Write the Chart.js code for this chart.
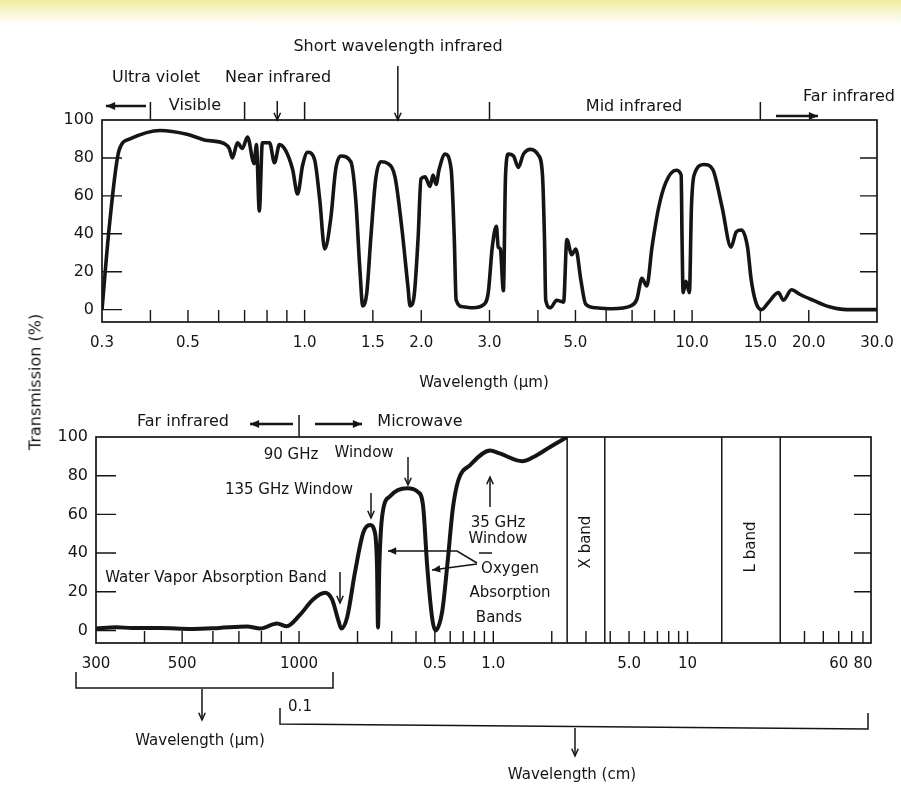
<!DOCTYPE html>
<html>
<head>
<meta charset="utf-8">
<script src="https://cdn.jsdelivr.net/npm/chart.js@4.4.1/dist/chart.umd.min.js"></script>
<style>
  html, body { margin: 0; padding: 0; }
  body {
    width: 901px; height: 786px; position: relative; overflow: hidden;
    background: linear-gradient(to bottom, #f1eb98 0px, #f8f4c9 10px, #ffffff 26px);
    font-family: "DejaVu Sans", sans-serif;
  }
  canvas { position: absolute; left: 0; }
  #top { top: 0; }
  #bottom { top: 400px; }
  #ylabel {
    position: absolute; left: 35px; top: 382px;
    transform: translate(-50%, -50%) rotate(-90deg);
    font-size: 16px; white-space: nowrap; color: #151515;
  }
</style>
</head>
<body>
<canvas id="top" width="901" height="400"></canvas>
<canvas id="bottom" width="901" height="386"></canvas>
<div id="ylabel">Transmission (%)</div>
<script>
"use strict";

// ---- top panel: wavelength in micrometres, transmission in %
var topWavelengthUm = [
    0.300, 0.313, 0.332, 0.354, 0.424, 0.497, 0.551, 0.621, 0.639, 0.651,
    0.671, 0.691, 0.712, 0.741, 0.751, 0.764, 0.778, 0.812, 0.836, 0.861,
    0.893, 0.931, 0.959, 0.988, 1.018, 1.061, 1.094, 1.127, 1.168, 1.203,
    1.240, 1.316, 1.355, 1.388, 1.413, 1.447, 1.482, 1.526, 1.574, 1.641,
    1.711, 1.782, 1.848, 1.871, 1.916, 1.963, 1.997, 2.045, 2.107, 2.145,
    2.184, 2.224, 2.305, 2.389, 2.433, 2.461, 2.565, 2.724, 2.891, 2.978,
    3.05, 3.125, 3.16, 3.20, 3.258, 3.30, 3.357, 3.46, 3.56, 3.67,
    3.83, 4.01, 4.11, 4.16, 4.19, 4.31, 4.47, 4.66, 4.75, 4.89,
    5.01, 5.16, 5.31, 5.64, 6.21, 6.95, 7.2, 7.42, 7.64, 7.88,
    8.2, 8.55, 9.09, 9.37, 9.42, 9.48, 9.64, 9.84, 9.96, 10.12,
    10.74, 11.3, 11.95, 12.6, 13.0, 13.4, 13.9, 14.2, 14.6, 15.1,
    15.7, 16.7, 17.2, 18.05, 19.0, 20.5, 22.6, 25.1, 30.0
];
var topTransmission = [
    0, 43, 84, 90, 94.5, 92.5, 89.5, 87.5, 85, 80,
    88, 85, 91, 77, 87, 52, 88, 88, 77.5, 87,
    84, 74, 61, 76, 83, 79, 58, 32, 48, 74,
    81, 78, 58, 22, 2, 9, 38, 69, 78, 77,
    70, 43, 12, 2, 7, 38, 69, 70, 65, 71,
    66, 74, 82, 74, 38, 5, 1.5, 1, 2.5, 9,
    33, 44, 33, 32, 10, 71, 82, 81, 75, 82,
    84.5, 81.5, 71, 37, 5, 1, 5, 4, 37, 29,
    32, 16, 3, 1, 0.5, 2, 5.5, 16.5, 12.5, 33,
    54, 67, 73.5, 71, 37, 9, 15, 9, 54, 71,
    76.5, 74, 54, 33, 41, 42, 33, 16, 4, 0,
    3.5, 9, 5, 10.5, 8, 5, 1.5, 0, 0
];
var topTickValues = [0.3, 0.4, 0.5, 0.6, 0.7, 0.8, 0.9, 1, 1.5, 2, 3, 4, 5, 6, 7, 8, 9, 10, 15, 20, 30];
var topTickLabels = { 0.3: "0.3", 0.5: "0.5", 1: "1.0", 1.5: "1.5", 2: "2.0", 3: "3.0",
    5: "5.0", 10: "10.0", 15: "15.0", 20: "20.0", 30: "30.0" };
var topRegionEdgesUm = [0.4, 0.7, 1.0, 3.0, 15.0];

// ---- bottom panel: wavelength in cm (300-1000 um shown as 0.03-0.1 cm)
var bottomWavelengthCm = [
    0.030, 0.0338, 0.0372, 0.0437, 0.0532, 0.0623, 0.0735, 0.0795, 0.0877, 0.093,
    0.101, 0.118, 0.136, 0.148, 0.159, 0.165, 0.177, 0.194, 0.214, 0.232,
    0.246, 0.252, 0.255, 0.259, 0.264, 0.271, 0.295, 0.360, 0.410, 0.435,
    0.457, 0.485, 0.503, 0.546, 0.580, 0.62, 0.66, 0.76, 0.965, 1.08,
    1.41, 1.6, 1.97, 2.40
];
var bottomTransmission = [
    1, 1.6, 1.3, 1.3, 0.8, 1.3, 2, 1, 3.6, 2.2,
    8, 16, 19.5, 16, 5.5, 1, 7, 30, 50.5, 54.5,
    50.5, 33, 1.5, 33, 52, 62.5, 69.5, 73.5, 71.5, 64.5,
    33, 6, 0, 10, 34, 63.5, 77.5, 85.5, 93, 91.5,
    87.5, 89.5, 95, 100
];
var bottomTickValues = [0.03, 0.04, 0.05, 0.06, 0.07, 0.08, 0.09, 0.1, 0.2, 0.3, 0.4,
    0.5, 0.6, 0.7, 0.8, 0.9, 1, 2, 3, 4, 5, 6, 7, 8, 9, 10, 40, 50, 60, 70, 80];
var bottomTickLabels = { 0.03: "300", 0.05: "500", 0.1: "1000", 0.5: "0.5", 1: "1.0",
    5: "5.0", 10: "10", 60: "60", 80: "80" };
var xBandCm = [2.4, 3.75];
var lBandCm = [15, 30];

var yTickValues = [0, 20, 40, 60, 80, 100];

var ink = "#151515";
Chart.defaults.font.family = "'DejaVu Sans', sans-serif";
Chart.defaults.color = ink;

// log axis with a break: first part (um range) is stretched compared with the rest
class BrokenLogScale extends Chart.LogarithmicScale {
    _decimal(value) {
        var o = this.options;
        var lo = Math.log10(this.min), br = Math.log10(o.breakValue), hi = Math.log10(this.max);
        var v = Math.log10(value);
        if (v <= br) return (v - lo) / (br - lo) * o.breakFraction;
        return o.breakFraction + (v - br) / (hi - br) * (1 - o.breakFraction);
    }
    getPixelForValue(value) {
        if (value === undefined || value === null || value <= 0) return NaN;
        return this.getPixelForDecimal(this._decimal(value));
    }
    getValueForPixel(pixel) {
        var o = this.options, d = this.getDecimalForPixel(pixel);
        var lo = Math.log10(this.min), br = Math.log10(o.breakValue), hi = Math.log10(this.max);
        var v = d <= o.breakFraction
            ? lo + d / o.breakFraction * (br - lo)
            : br + (d - o.breakFraction) / (1 - o.breakFraction) * (hi - br);
        return Math.pow(10, v);
    }
}
BrokenLogScale.id = "brokenLog";
BrokenLogScale.defaults = Chart.LogarithmicScale.defaults;
Chart.register(BrokenLogScale);

function line(ctx, x1, y1, x2, y2) {
    ctx.beginPath(); ctx.moveTo(x1, y1); ctx.lineTo(x2, y2); ctx.stroke();
}

function arrow(ctx, pts, size, filled) {
    ctx.beginPath();
    ctx.moveTo(pts[0][0], pts[0][1]);
    for (var i = 1; i < pts.length; i++) ctx.lineTo(pts[i][0], pts[i][1]);
    ctx.stroke();
    var p = pts[pts.length - 2], q = pts[pts.length - 1];
    var ang = Math.atan2(q[1] - p[1], q[0] - p[0]), w = 0.42;
    ctx.beginPath();
    ctx.moveTo(q[0] - size * Math.cos(ang - w), q[1] - size * Math.sin(ang - w));
    ctx.lineTo(q[0], q[1]);
    ctx.lineTo(q[0] - size * Math.cos(ang + w), q[1] - size * Math.sin(ang + w));
    if (filled) { ctx.closePath(); ctx.fill(); } else { ctx.stroke(); }
}

function label(ctx, s, x, y, size, rot) {
    ctx.font = (size || 16) + "px 'DejaVu Sans', sans-serif";
    ctx.textAlign = "center";
    ctx.textBaseline = "middle";
    if (rot) {
        ctx.save(); ctx.translate(x, y); ctx.rotate(rot); ctx.fillText(s, 0, 0); ctx.restore();
    } else {
        ctx.fillText(s, x, y);
    }
}

// frame round the plot and inward tick marks
var framePlugin = {
    id: "frame",
    afterDatasetsDraw: function (chart) {
        var ctx = chart.ctx, a = chart.chartArea, x = chart.scales.x, y = chart.scales.y;
        ctx.save();
        ctx.strokeStyle = ink;
        ctx.lineWidth = 1.7;
        ctx.strokeRect(a.left, a.top, a.right - a.left, a.bottom - a.top);
        ctx.lineWidth = 1.4;
        ctx.beginPath();
        x.ticks.forEach(function (t) {
            var px = x.getPixelForValue(t.value);
            if (px < a.left + 2 || px > a.right - 2) return;
            ctx.moveTo(px, a.bottom);
            ctx.lineTo(px, a.bottom - 12);
        });
        y.ticks.forEach(function (t) {
            if (t.value >= 100) return;
            var py = y.getPixelForValue(t.value);
            ctx.moveTo(a.left, py);
            ctx.lineTo(a.left + 20, py);
            if (t.value > 0) {
                ctx.moveTo(a.right, py);
                ctx.lineTo(a.right - 17, py);
            }
        });
        ctx.stroke();
        ctx.restore();
    }
};

var topNotes = {
    id: "topNotes",
    afterDraw: function (chart) {
        var ctx = chart.ctx, a = chart.chartArea, x = chart.scales.x;
        ctx.save();
        ctx.strokeStyle = ink;
        ctx.fillStyle = ink;
        ctx.lineWidth = 1.5;
        topRegionEdgesUm.forEach(function (w) {
            var px = x.getPixelForValue(w);
            line(ctx, px, a.top - 18, px, a.top);
        });
        label(ctx, "Short wavelength infrared", 398, 47);
        label(ctx, "Ultra violet", 156, 78);
        label(ctx, "Near infrared", 278, 78);
        label(ctx, "Visible", 195, 106);
        label(ctx, "Mid infrared", 634, 107);
        label(ctx, "Far infrared", 849, 97);
        ctx.lineWidth = 2.4;
        arrow(ctx, [[146, 106], [106, 106]], 10, true);
        arrow(ctx, [[776, 116], [818, 116]], 10, true);
        ctx.lineWidth = 1.5;
        var nir = x.getPixelForValue(0.85), swir = x.getPixelForValue(1.74);
        arrow(ctx, [[nir, 101], [nir, a.top]], 8);
        arrow(ctx, [[swir, 66], [swir, a.top]], 8);
        label(ctx, "Wavelength (\u03bcm)", 484, 383, 15);
        ctx.restore();
    }
};

var bottomNotes = {
    id: "bottomNotes",
    afterDraw: function (chart) {
        var ctx = chart.ctx, a = chart.chartArea, x = chart.scales.x;
        ctx.save();
        ctx.strokeStyle = ink;
        ctx.fillStyle = ink;
        ctx.lineWidth = 1.5;
        // microwave band limits
        xBandCm.concat(lBandCm).forEach(function (w) {
            var px = x.getPixelForValue(w);
            line(ctx, px, a.top, px, a.bottom);
        });
        label(ctx, "X band", x.getPixelForValue(Math.sqrt(xBandCm[0] * xBandCm[1])), 142, 15, -Math.PI / 2);
        label(ctx, "L band", x.getPixelForValue(Math.sqrt(lBandCm[0] * lBandCm[1])), 147, 15, -Math.PI / 2);

        // far infrared / microwave split at 1 mm
        var split = x.getPixelForValue(0.1);
        line(ctx, split, 15, split, a.top);
        label(ctx, "Far infrared", 183, 22);
        label(ctx, "Microwave", 420, 22);
        ctx.lineWidth = 2.4;
        arrow(ctx, [[293, 24], [250, 24]], 10, true);
        arrow(ctx, [[315, 24], [362, 24]], 10, true);

        ctx.lineWidth = 1.5;
        label(ctx, "90 GHz", 291, 55, 15);
        label(ctx, "Window", 364, 53, 15);
        arrow(ctx, [[408, 57], [408, 85]], 8);
        label(ctx, "135 GHz Window", 289, 90, 15);
        arrow(ctx, [[371, 93], [371, 118]], 8);
        label(ctx, "35 GHz", 498, 123, 15);
        label(ctx, "Window", 498, 139, 15);
        line(ctx, 479, 153, 492, 153);
        arrow(ctx, [[490, 107], [490, 77]], 8);
        label(ctx, "Oxygen", 510, 169, 15);
        label(ctx, "Absorption", 510, 193, 15);
        label(ctx, "Bands", 499, 218, 15);
        arrow(ctx, [[477, 163], [457, 151], [388, 151]], 9, true);
        arrow(ctx, [[477, 164], [432, 170]], 9, true);
        label(ctx, "Water Vapor Absorption Band", 216, 178, 15);
        arrow(ctx, [[340, 172], [340, 203]], 8);

        // brackets under the axis
        ctx.lineWidth = 1.5;
        ctx.beginPath();
        ctx.moveTo(76, 272); ctx.lineTo(76, 288); ctx.lineTo(333, 288); ctx.lineTo(333, 272);
        ctx.stroke();
        arrow(ctx, [[202, 289], [202, 320]], 8);
        label(ctx, "Wavelength (\u03bcm)", 200, 341, 15);
        ctx.beginPath();
        ctx.moveTo(280, 308); ctx.lineTo(280, 324); ctx.lineTo(868, 329); ctx.lineTo(868, 313);
        ctx.stroke();
        label(ctx, "0.1", 300, 307, 15);
        arrow(ctx, [[575, 328], [575, 356]], 8);
        label(ctx, "Wavelength (cm)", 572, 375, 15);
        ctx.restore();
    }
};

function yAxis(width, pad) {
    return {
        min: -6.5, max: 100, bounds: "data",
        grid: { display: false }, border: { display: false },
        afterBuildTicks: function (s) { s.ticks = yTickValues.map(function (v) { return { value: v }; }); },
        afterFit: function (s) { s.width = width; },
        ticks: { padding: pad, font: { size: 16 }, callback: function (v) { return String(v); } }
    };
}

function series(xs, ys, width) {
    return {
        data: xs.map(function (w, i) { return { x: w, y: ys[i] }; }),
        borderColor: ink, borderWidth: width, pointRadius: 0,
        cubicInterpolationMode: "monotone", fill: false
    };
}

new Chart(document.getElementById("top"), {
    type: "line",
    data: { datasets: [series(topWavelengthUm, topTransmission, 3.6)] },
    options: {
        responsive: false, animation: false, events: [],
        layout: { padding: { top: 120, right: 24, left: 0, bottom: 0 } },
        plugins: { legend: { display: false }, tooltip: { enabled: false } },
        scales: {
            x: {
                type: "logarithmic", min: 0.3, max: 30, bounds: "data",
                grid: { display: false }, border: { display: false },
                afterBuildTicks: function (s) { s.ticks = topTickValues.map(function (v) { return { value: v }; }); },
                afterFit: function (s) { s.height = 78; },
                ticks: { autoSkip: false, maxRotation: 0, padding: 4, font: { size: 15 },
                    callback: function (v) { return topTickLabels[v] || ""; } }
            },
            y: yAxis(102, 0)
        }
    },
    plugins: [framePlugin, topNotes]
});

new Chart(document.getElementById("bottom"), {
    type: "line",
    data: { datasets: [series(bottomWavelengthCm, bottomTransmission, 4)] },
    options: {
        responsive: false, animation: false, events: [],
        layout: { padding: { top: 37, right: 30, left: 0, bottom: 0 } },
        plugins: { legend: { display: false }, tooltip: { enabled: false } },
        scales: {
            x: {
                type: "brokenLog", min: 0.03, max: 88, bounds: "data",
                breakValue: 0.1, breakFraction: 0.262,
                grid: { display: false }, border: { display: false },
                afterBuildTicks: function (s) { s.ticks = bottomTickValues.map(function (v) { return { value: v }; }); },
                afterFit: function (s) { s.height = 143; },
                ticks: { autoSkip: false, maxRotation: 0, padding: 4, font: { size: 15 },
                    callback: function (v) { return bottomTickLabels[v] || ""; } }
            },
            y: yAxis(96, 0)
        }
    },
    plugins: [framePlugin, bottomNotes]
});
</script>
</body>
</html>
